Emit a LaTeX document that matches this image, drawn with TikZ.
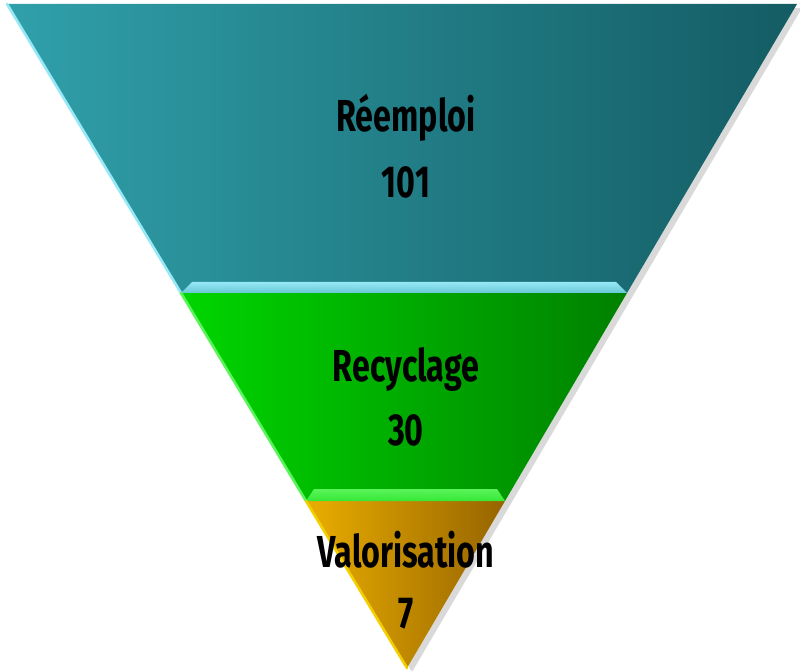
\documentclass[tikz,border=0pt]{standalone}
\usepackage{fontspec}
\newfontfamily\funnelfont[FakeStretch=0.72]{Fira Sans}

\definecolor{tealL}{RGB}{48,160,170}
\definecolor{tealD}{RGB}{20,92,100}
\definecolor{tealB}{RGB}{150,232,246}
\definecolor{greenL}{RGB}{0,214,0}
\definecolor{greenD}{RGB}{0,128,0}
\definecolor{greenB}{RGB}{90,244,90}
\definecolor{goldL}{RGB}{234,174,0}
\definecolor{goldD}{RGB}{150,100,0}

\begin{document}
\begin{tikzpicture}[x=0.02cm, y=-0.02cm,
    band/.style={shading angle=70},
    rim/.style={line width=1.5pt, line cap=round},
    funnel text/.style={anchor=base, inner sep=0pt, text=black,
      font=\funnelfont\bfseries\fontsize{25.5}{30}\selectfont}]
  \useasboundingbox (0,0) rectangle (800,671);
  % corners of the bands
  \coordinate (TL) at (7,4);
  \coordinate (TR) at (797,4);
  \coordinate (ML) at (181,293);
  \coordinate (MR) at (627,293);
  \coordinate (LL) at (306,501);
  \coordinate (LR) at (505,501);
  \coordinate (Apex) at (407,668);
  %
  \fill[black, opacity=0.15] ([shift={(5,4)}]TL) -- ([shift={(5,4)}]TR) -- ([shift={(5,4)}]Apex) -- cycle;
  %
  \shade[band, left color=tealL, right color=tealD] (TL) -- (TR) -- (MR) -- (ML) -- cycle;
  \shade[band, left color=greenL, right color=greenD] (ML) -- (MR) -- (LR) -- (LL) -- cycle;
  \shade[band, left color=goldL, right color=goldD] (LL) -- (LR) -- (Apex) -- cycle;
  %
  \shade[top color=tealB, bottom color=tealB!55!tealL] (ML) -- (MR) -- (616,282) -- (192,282) -- cycle;
  \shade[top color=greenB, bottom color=greenB!60!greenL] (LL) -- (LR) -- (497,489) -- (314,489) -- cycle;
  %
  \draw[rim, tealB] (TL) -- (ML);
  \draw[rim, greenB] (ML) -- (LL);
  \draw[rim, goldL!60!yellow] (LL) -- (Apex);
  %
  \node[funnel text] (reemploi) at (406,132) {Réemploi};
  \node[funnel text] (reemploiN) at (406,198) {101};
  \node[funnel text] (recyclage) at (406,382) {Recyclage};
  \node[funnel text] (recyclageN) at (406,445) {30};
  \node[funnel text] (valorisation) at (406,567) {Valorisation};
  \node[funnel text] (valorisationN) at (406,628) {7};
\end{tikzpicture}
\end{document}
